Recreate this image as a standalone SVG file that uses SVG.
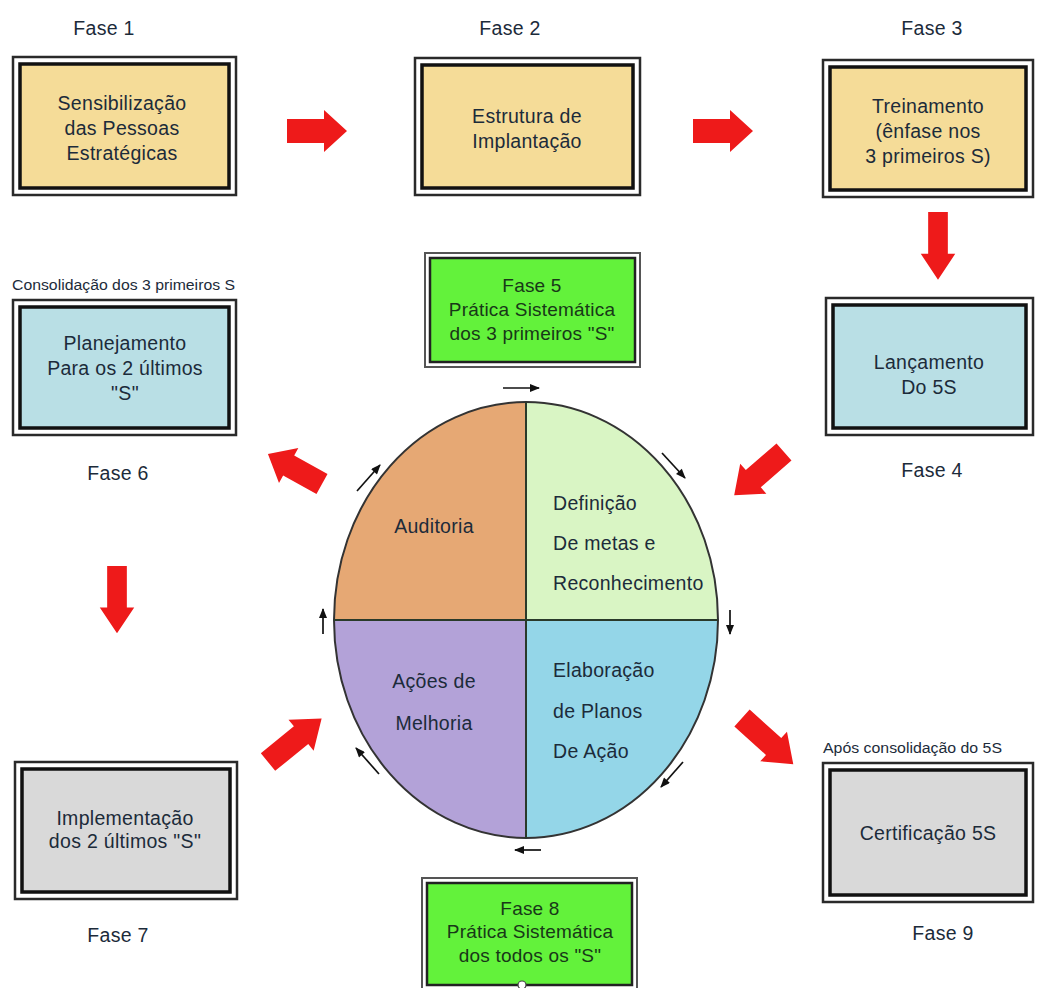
<svg xmlns="http://www.w3.org/2000/svg" width="1039" height="988" viewBox="0 0 1039 988">
<style>
.t{font-family:"Liberation Sans",Arial,sans-serif;font-size:19.5px;letter-spacing:0.3px;fill:#1c2b3a;text-anchor:middle}
.tl{font-family:"Liberation Sans",Arial,sans-serif;font-size:19.5px;letter-spacing:0.3px;fill:#1c2b3a}
.g{font-family:"Liberation Sans",Arial,sans-serif;font-size:19px;letter-spacing:0.2px;fill:#183818;text-anchor:middle}
.s{font-family:"Liberation Sans",Arial,sans-serif;font-size:14px;fill:#1c2b3a}
.o{fill:none;stroke:#2a2a2a;stroke-width:2.5}
.i{stroke:#111;stroke-width:3.5}
.go{fill:none;stroke:#555;stroke-width:2}
.gi{fill:#63f23b;stroke:#222;stroke-width:2.5}
.ra{fill:#ee1a1a}
.ba{stroke:#111;stroke-width:1.7;fill:none;marker-end:url(#ah)}
.q{stroke:#2a3a2a;stroke-width:2}
</style>
<defs>
<path id="big" d="M0,-12 H37 V-21 L60,0 L37,21 V12 H0 Z"/>
<marker id="ah" viewBox="0 0 10 8" refX="9" refY="4" markerWidth="11" markerHeight="8" markerUnits="userSpaceOnUse" orient="auto">
<path d="M0,0 L10,4 L0,8 Z" fill="#111"/>
</marker>
</defs>
<rect width="1039" height="988" fill="#fff"/>

<g id="connectors">
<use href="#big" class="ra" transform="translate(287,131)"/>
<use href="#big" class="ra" transform="translate(693,131)"/>
<use href="#big" class="ra" transform="translate(938,212) rotate(90) scale(1.13,0.82)"/>
<use href="#big" class="ra" transform="translate(117,566) rotate(90) scale(1.12,0.82)"/>
<use href="#big" class="ra" transform="translate(322,484) rotate(209) scale(1.03,0.95)"/>
<use href="#big" class="ra" transform="translate(268,762) rotate(-39) scale(1.15,0.95)"/>
<use href="#big" class="ra" transform="translate(784,452) rotate(139) scale(1.1,0.95)"/>
<use href="#big" class="ra" transform="translate(742,718) rotate(42) scale(1.15,0.95)"/>
<line class="ba" x1="503" y1="388" x2="539" y2="388"/>
<line class="ba" x1="662" y1="453" x2="685" y2="478"/>
<line class="ba" x1="730" y1="610" x2="730" y2="634"/>
<line class="ba" x1="683" y1="762" x2="661" y2="787"/>
<line class="ba" x1="541" y1="850" x2="515" y2="850"/>
<line class="ba" x1="379" y1="774" x2="356" y2="748"/>
<line class="ba" x1="323" y1="634" x2="323" y2="609"/>
<line class="ba" x1="357" y1="491" x2="380" y2="465"/>
</g>

<g id="cycle">
<path d="M526,620 L526,402 A192,218 0 0 0 334,620 Z" fill="#e6a874"/>
<path d="M526,620 L526,402 A192,218 0 0 1 718,620 Z" fill="#d9f5c4"/>
<path d="M526,620 L718,620 A192,218 0 0 1 526,838 Z" fill="#94d6e8"/>
<path d="M526,620 L526,838 A192,218 0 0 1 334,620 Z" fill="#b3a2d8"/>
<ellipse cx="526" cy="620" rx="192" ry="218" fill="none" stroke="#333" stroke-width="2"/>
<line class="q" x1="526" y1="402" x2="526" y2="838"/>
<line class="q" x1="334" y1="620" x2="718" y2="620"/>
<text class="t" x="434" y="533">Auditoria</text>
<text class="tl" x="553" y="510">Definição</text>
<text class="tl" x="553" y="550">De metas e</text>
<text class="tl" x="553" y="590">Reconhecimento</text>
<text class="t" x="434" y="688">Ações de</text>
<text class="t" x="434" y="730">Melhoria</text>
<text class="tl" x="553" y="677">Elaboração</text>
<text class="tl" x="553" y="718">de Planos</text>
<text class="tl" x="553" y="758">De Ação</text>
</g>

<g id="fase1">
<text class="t" x="104" y="35">Fase 1</text>
<rect class="o" x="13" y="57" width="223" height="138"/>
<rect class="i" x="20" y="64" width="209" height="124" fill="#f5dc98"/>
<text class="t" x="122" y="110">Sensibilização</text>
<text class="t" x="122" y="135">das Pessoas</text>
<text class="t" x="122" y="160">Estratégicas</text>
</g>

<g id="fase2">
<text class="t" x="510" y="35">Fase 2</text>
<rect class="o" x="415" y="58" width="225" height="137"/>
<rect class="i" x="422" y="65" width="211" height="123" fill="#f5dc98"/>
<text class="t" x="527" y="123">Estrutura de</text>
<text class="t" x="527" y="148">Implantação</text>
</g>

<g id="fase3">
<text class="t" x="932" y="35">Fase 3</text>
<rect class="o" x="823" y="60" width="210" height="137"/>
<rect class="i" x="830" y="67" width="196" height="123" fill="#f5dc98"/>
<text class="t" x="928" y="113">Treinamento</text>
<text class="t" x="928" y="138">(ênfase nos</text>
<text class="t" x="928" y="163">3 primeiros S)</text>
</g>

<g id="fase4">
<rect class="o" x="826" y="298" width="207" height="137"/>
<rect class="i" x="833" y="305" width="193" height="123" fill="#b9dfe5"/>
<text class="t" x="929" y="369">Lançamento</text>
<text class="t" x="929" y="394">Do 5S</text>
<text class="t" x="932" y="477">Fase 4</text>
</g>

<g id="fase5">
<rect class="go" x="425" y="253" width="215" height="114"/>
<rect class="gi" x="430" y="258" width="205" height="104"/>
<text class="g" x="532" y="292">Fase 5</text>
<text class="g" x="532" y="316">Prática Sistemática</text>
<text class="g" x="532" y="340">dos 3 primeiros "S"</text>
</g>

<g id="fase6">
<text class="s" x="12" y="290" textLength="223" lengthAdjust="spacingAndGlyphs">Consolidação dos 3 primeiros S</text>
<rect class="o" x="13" y="300" width="223" height="135"/>
<rect class="i" x="20" y="307" width="209" height="121" fill="#b9dfe5"/>
<text class="t" x="125" y="350">Planejamento</text>
<text class="t" x="125" y="375">Para os 2 últimos</text>
<text class="t" x="125" y="400">"S"</text>
<text class="t" x="118" y="480">Fase 6</text>
</g>

<g id="fase7">
<rect class="o" x="15" y="762" width="222" height="137"/>
<rect class="i" x="22" y="769" width="208" height="123" fill="#d9d9d9"/>
<text class="t" x="125" y="825">Implementação</text>
<text class="t" x="125" y="848">dos 2 últimos "S"</text>
<text class="t" x="118" y="942">Fase 7</text>
</g>

<g id="fase8">
<rect class="go" x="422" y="878" width="215" height="112"/>
<rect class="gi" x="427" y="883" width="205" height="102"/>
<text class="g" x="530" y="915">Fase 8</text>
<text class="g" x="530" y="938">Prática Sistemática</text>
<text class="g" x="530" y="962">dos todos os "S"</text>
<circle cx="522" cy="985" r="4" fill="#fff" stroke="#444" stroke-width="1.2"/>
</g>

<g id="fase9">
<text class="s" x="823" y="753" textLength="179" lengthAdjust="spacingAndGlyphs">Após consolidação do 5S</text>
<rect class="o" x="823" y="763" width="210" height="139"/>
<rect class="i" x="830" y="770" width="196" height="125" fill="#d9d9d9"/>
<text class="t" x="928" y="840">Certificação 5S</text>
<text class="t" x="943" y="940">Fase 9</text>
</g>
</svg>
